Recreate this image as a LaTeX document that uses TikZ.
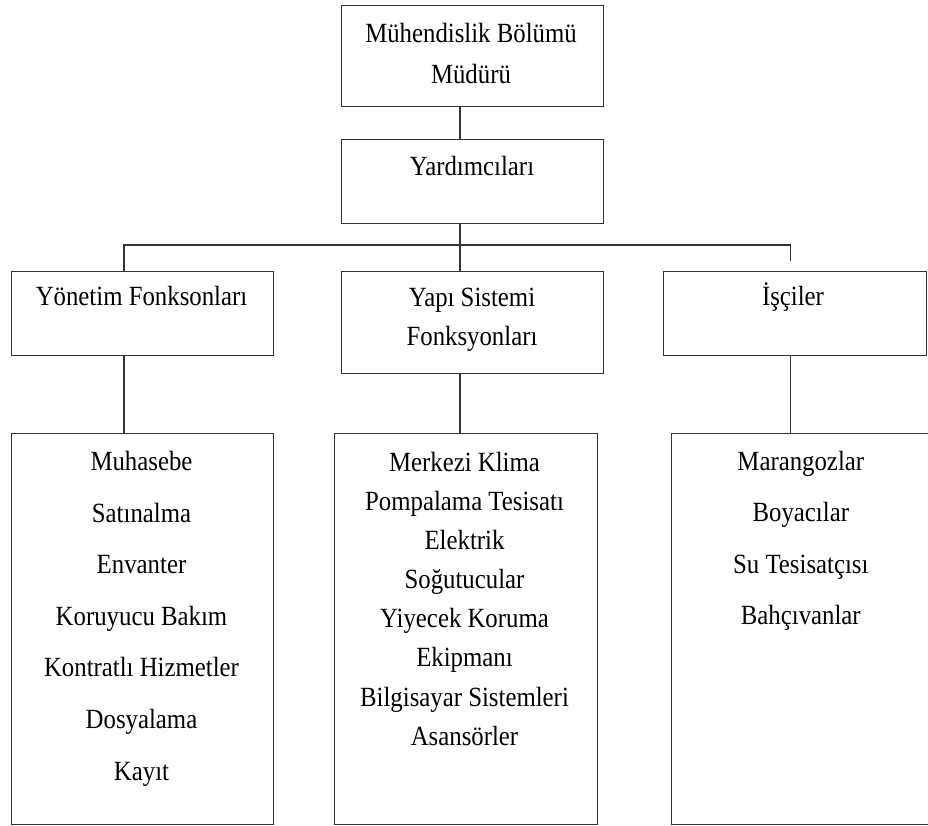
\documentclass[tikz,border=0pt]{standalone}
\usepackage{fontspec}
\setmainfont{Liberation Serif}
% slightly tall lettering
\newcommand{\tallword}[1]{\scalebox{1}[1.12]{#1}}
\begin{document}
\begin{tikzpicture}[x=1pt, y=-1pt,
  box/.style={draw=black!80, line width=1.1pt, inner sep=0pt, anchor=north west},
  lbl/.style={anchor=base, inner sep=0pt, font=\fontsize{24.8}{28}\selectfont, text=black},
  link/.style={draw=black!80, line width=1.1pt}]
\useasboundingbox (0,0) rectangle (928,825);

% boxes
\node[box, minimum width=262pt,   minimum height=101pt]   (a) at (341,5) {};
\node[box, minimum width=262pt,   minimum height=84pt]    (b) at (341,139) {};
\node[box, minimum width=262.3pt, minimum height=84.3pt]  (c) at (10.7,270.7) {};
\node[box, minimum width=262.6pt, minimum height=102pt]   (d) at (340.7,270.7) {};
\node[box, minimum width=262.4pt, minimum height=84.3pt]  (e) at (663.3,270.7) {};
\node[box, minimum width=262.3pt, minimum height=390.5pt] (f) at (10.7,433) {};
\node[box, minimum width=262.4pt, minimum height=390.5pt] (g) at (334.3,433) {};
\node[box, minimum width=262pt,   minimum height=390.5pt] (h) at (670.7,433) {};

% headings
\node[lbl] (a1) at (471,42) {\tallword{Mühendislik Bölümü}};
\node[lbl] (a2) at (471,83) {\tallword{Müdürü}};
\node[lbl] (b1) at (472,175) {\tallword{Yardımcıları}};
\node[lbl] (c1) at (141.5,305) {\tallword{Yönetim Fonksonları}};
\node[lbl] (d1) at (472,306.7) {\tallword{Yapı Sistemi}};
\node[lbl] (d2) at (472,345) {\tallword{Fonksyonları}};
\node[lbl] (e1) at (793,305) {\tallword{İşçiler}};

% lists
\foreach [count=\i] \t in {Muhasebe, Satınalma, Envanter, Koruyucu Bakım,
    Kontratlı Hizmetler, Dosyalama, Kayıt}
  \node[lbl] (f\i) at (141.5,{470.7+51.55*(\i-1)}) {\tallword{\t}};
\foreach [count=\i] \t in {Merkezi Klima, Pompalama Tesisatı, Elektrik,
    Soğutucular, Yiyecek Koruma, Ekipmanı, Bilgisayar Sistemleri, Asansörler}
  \node[lbl] (g\i) at (464.5,{471.7+39.05*(\i-1)}) {\tallword{\t}};
\foreach [count=\i] \t in {Marangozlar, Boyacılar, Su Tesisatçısı, Bahçıvanlar}
  \node[lbl] (h\i) at (800.8,{470.7+51.2*(\i-1)}) {\tallword{\t}};

% connector columns and bus
\coordinate (xl) at (124,0);
\coordinate (xm) at (460,0);
\coordinate (xr) at (790.7,0);
\coordinate (bus) at (0,245);
\coordinate (estub) at (0,261);

\draw[link] (xm |- a.south) -- (xm |- b.north);
\draw[link] (xm |- b.south) -- (xm |- bus);
\draw[link] (xl |- c.north) -- (xl |- bus) -- (xr |- bus) -- (xr |- estub);
\draw[link] (xm |- bus) -- (xm |- d.north);
\draw[link] (xl |- c.south) -- (xl |- f.north);
\draw[link] (xm |- d.south) -- (xm |- g.north);
\draw[link] (xr |- e.south) -- (xr |- h.north);
\end{tikzpicture}
\end{document}
